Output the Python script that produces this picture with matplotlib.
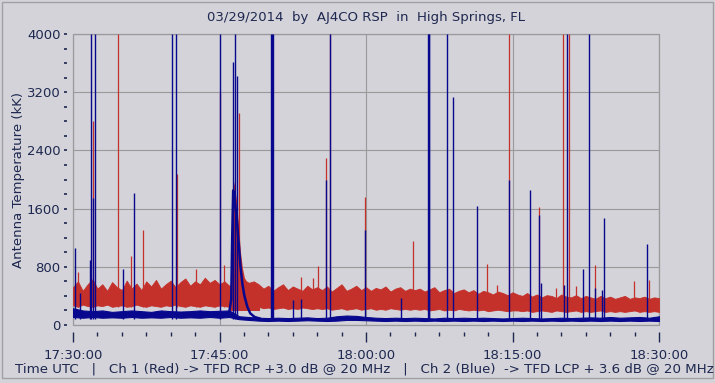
#library setup
#------------------------------
import numpy as np
import matplotlib
matplotlib.use('Agg')
import matplotlib.pyplot as plt
from matplotlib.ticker import MultipleLocator, FuncFormatter
from matplotlib.patches import Rectangle
#------------------------------

# Data (time in minutes after 17:30 UTC, antenna temperature in kK)
#------------------------------
band_t = np.arange(0, 60.01, 0.5)   # red band sample grid
red_hi = [520, 600, 470, 560, 630, 500, 560, 470, 590, 520, 480, 610, 500, 570, 480, 600, 530,
          620, 500, 560, 610, 520, 590, 640, 540, 600, 560, 650, 580, 620, 560, 600, 540,
          560, 600, 620, 580, 600,
          560, 500, 540, 470, 520, 560, 480, 530, 500, 470, 540, 490, 520,
          480, 530, 460, 510, 560, 470, 500, 540, 480, 520, 470, 510, 490, 530, 460, 500, 520, 470, 500, 480,
          500, 460, 490, 520, 450, 480, 500, 440, 470, 490, 450, 480, 430, 470, 450, 420, 460, 440, 410, 450,
          420, 400, 440, 390, 420, 380, 410, 400, 370, 420, 390, 380, 410, 370, 400, 380, 360, 400, 370, 390,
          360, 380, 400, 360, 380, 370, 390, 360, 380, 370]
red_lo = [270, 250, 280, 260, 250, 270, 260, 280, 250, 260, 270, 250, 260, 280, 260, 250, 270,
          260, 250, 270, 260, 280, 260, 250, 270, 260, 250, 270, 260, 250, 270, 260, 250,
          260, 250, 240, 250, 240,
          250, 230, 240, 220, 230, 240, 220, 230, 220, 240, 230, 220, 230,
          220, 230, 210, 220, 230, 210, 220, 230, 210, 220, 230, 210, 220, 210, 230, 220, 210, 220, 210, 220,
          210, 220, 200, 210, 220, 200, 210, 200, 220, 210, 200, 210, 200, 210, 190, 200, 210, 200, 190, 200,
          200, 190, 200, 180, 190, 200, 190, 180, 200, 190, 180, 190, 200, 180, 190, 180, 190, 200, 180, 190,
          180, 190, 180, 190, 200, 180, 190, 180, 190, 180]

blue_t = np.arange(0, 61, 1)   # blue baseline sample grid
blue_hi = [230, 200, 190, 200, 180, 190, 200, 190, 180, 200, 190, 185, 190, 200, 190, 195, 200,
           120, 110,
           100, 95, 100, 95, 100, 105, 95, 100, 120, 130, 125, 110, 100, 95, 100, 95, 100, 95, 90, 100, 95,
           100, 95, 100, 95, 90, 95, 100, 95, 90, 95, 100, 95, 100, 105, 100, 110, 100, 105, 110, 100, 120]
blue_lo = [110, 100, 110, 100, 105, 100, 110, 100, 105, 100, 110, 100, 105, 100, 110, 100, 110,
           80, 70,
           60, 55, 60, 55, 60, 65, 60, 55, 60, 70, 70, 65, 60, 55, 60, 55, 60, 55, 60, 55, 60,
           55, 60, 55, 60, 55, 60, 55, 60, 55, 60, 55, 60, 55, 60, 55, 60, 55, 60, 55, 60, 55]

# solar burst around 17:46
burst_t = [16.0, 16.2, 16.3, 16.4, 16.55, 16.75, 16.95, 17.15, 17.35, 17.55, 17.85, 18.15, 18.6, 19.1]
burst_blue = [180, 350, 1200, 1850, 1700, 1500, 1150, 800, 560, 400, 250, 160, 110, 90]
burst_red = [250, 400, 1400, 2000, 1900, 1700, 1350, 1000, 780, 650, 580, 560, 540, 520]

# interference spikes
red_spk_t = [0.54, 2.05, 4.64, 5.94, 7.2, 10.6, 12.6, 15.0, 15.5, 17.0, 20.4, 23.3, 24.6, 25.1,
             25.9, 26.3, 29.9, 34.8, 42.4, 43.4, 44.6, 47.7, 49.5, 50.2, 50.8, 51.5, 53.4, 57.4, 59.0]
red_spk_v = [730, 2800, 4000, 950, 1300, 2070, 770, 3190, 825, 2910, 3900, 655, 645, 810,
             2290, 4000, 1760, 1150, 840, 550, 4000, 1620, 510, 4000, 4000, 540, 825, 600, 620]
blue_spk_t = [0.2, 0.75, 1.74, 1.84, 2.05, 2.28, 5.15, 6.28, 10.14, 10.5, 15.0, 16.38, 16.62, 16.76,
              20.3, 20.4, 20.5, 22.5, 23.3, 25.9, 26.35, 29.9, 33.6, 36.3, 36.4, 36.5, 38.3, 38.9,
              41.4, 44.6, 46.8, 47.7, 47.95, 50.3, 50.55, 52.25, 52.86, 53.45, 54.2, 54.37, 58.8]
blue_spk_v = [1055, 440, 890, 4000, 1750, 4000, 770, 1810, 4000, 4000, 4000, 3620, 4000, 3420,
              4000, 4000, 4000, 345, 355, 2000, 4000, 1300, 370, 4000, 4000, 4000, 4000, 3140,
              1630, 1990, 1860, 1510, 580, 550, 4000, 770, 4000, 510, 480, 1470, 1120]
#------------------------------

bg = '#d3d3d9'
red = '#c4302a'
blue = '#08088e'
txt = '#1e2850'
grid = '#9a9a9a'

def tfmt(m, pos):
    tot = 30 + int(round(m))
    return '%d:%02d:00' % (17 + tot // 60, tot % 60)

fig = plt.figure(figsize=(7.15, 3.83), dpi=100)
fig.patch.set_facecolor(bg)
ax = fig.add_axes([73/715, 58/383, 586/715, 291/383])
ax.set_facecolor(bg)

# red channel
ax.fill_between(band_t, red_lo, red_hi, color=red, lw=0.6, edgecolor=red, zorder=2)
ax.fill_between(burst_t, 200, burst_red, color=red, lw=0, zorder=2)
ax.vlines(red_spk_t, 250, red_spk_v, color=red, lw=0.9, zorder=3)

# blue channel
ax.fill_between(blue_t, blue_lo, blue_hi, color=blue, lw=0.8, edgecolor=blue, zorder=4)
ax.plot(burst_t, burst_blue, color=blue, lw=1.8, zorder=4)
ax.vlines(blue_spk_t, 80, blue_spk_v, color=blue, lw=1.0, zorder=5)

ax.set_xlim(0, 60)
ax.set_ylim(0, 4000)

# grid + frame
ax.grid(True, which='major', color=grid, lw=0.8, zorder=1)
ax.add_patch(Rectangle((0, 0), 1, 1, transform=ax.transAxes, fill=False,
                       ec=grid, lw=0.9, zorder=1, clip_on=False))
for s in ['top', 'right']:
    ax.spines[s].set_visible(False)
ax.spines['left'].set_position(('outward', 4))
ax.spines['bottom'].set_position(('outward', 5))
ax.spines['left'].set_visible(False)
ax.spines['bottom'].set_visible(False)

ax.xaxis.set_major_locator(MultipleLocator(15))
ax.xaxis.set_minor_locator(MultipleLocator(2.5))
ax.xaxis.set_major_formatter(FuncFormatter(tfmt))
ax.yaxis.set_major_locator(MultipleLocator(800))
ax.yaxis.set_minor_locator(MultipleLocator(200))

ax.tick_params(axis='x', which='major', length=7, width=1, color=txt, pad=5,
               labelsize=9.5, labelcolor=txt)
ax.tick_params(axis='x', which='minor', length=3, width=1, color=txt)
ax.tick_params(axis='y', which='both', length=2, width=1.2, color=txt, pad=3,
               labelsize=9.5, labelcolor=txt)

ax.set_ylabel('Antenna Temperature (kK)', fontsize=9.5, color=txt)
ax.yaxis.set_label_coords(-0.082, 0.5)

fig.text(366/715, 1 - 17/383, '03/29/2014  by  AJ4CO RSP  in  High Springs, FL',
         ha='center', va='center', fontsize=9.5, color=txt)
fig.text(15/715, 1 - 369/383,
         'Time UTC   |   Ch 1 (Red) -> TFD RCP +3.0 dB @ 20 MHz   |   Ch 2 (Blue)  -> TFD LCP + 3.6 dB @ 20 MHz',
         ha='left', va='center', fontsize=9.6, color=txt)

# window bevel
fig.patches.append(Rectangle((1.5/715, 5/383), 711/715, 376/383, transform=fig.transFigure,
                             fill=False, ec='#a0a0a4', lw=1))

fig.savefig('out.png', dpi=100, facecolor=bg)
